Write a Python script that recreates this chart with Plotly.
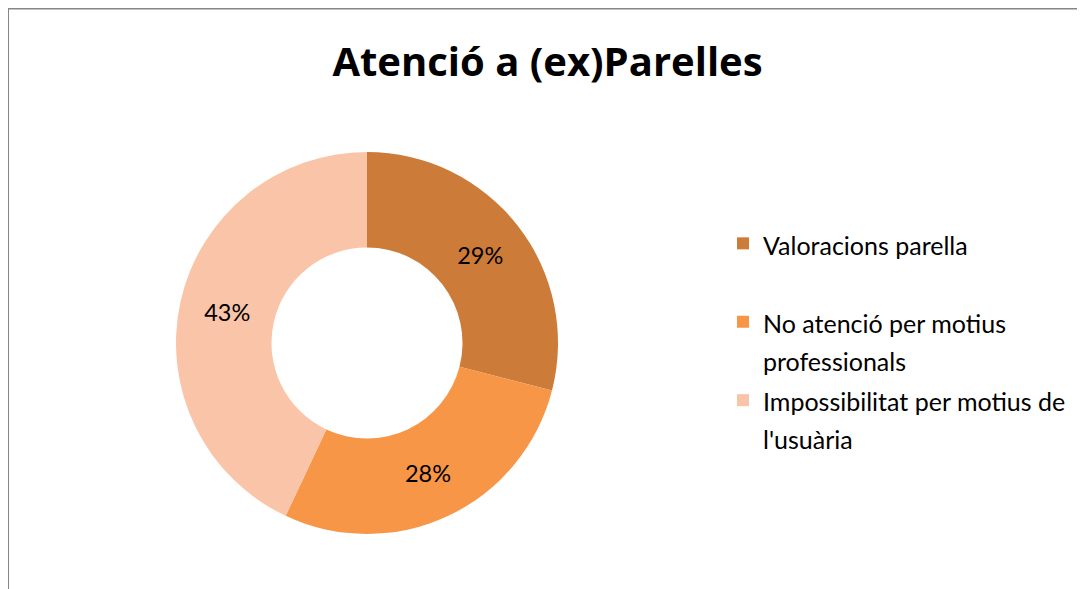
import plotly.graph_objects as go

labels = ["Valoracions parella", "No atenció per motius<br>professionals", "Impossibilitat per motius de<br>l'usuària"]
values = [29, 28, 43]
colors = ["#CD7B38", "#F79646", "#FAC4A9"]
title = "Atenció a (ex)Parelles"

# the page body has an 8px margin; work in screen pixels and shift
OFF = 8
W, H = 1085 - OFF, 589 - OFF
FONT = "Lato"


def px(x):
    return (x - OFF) / W


def py(y):
    return 1 - (y - OFF) / H


legend_labels = ["<span style='font-size:25px'>" + l.replace("<br>", "</span><br><span style='font-size:25px'>") + "</span>"
                 for l in [labels[0] + "<br> "] + labels[1:]]

fig = go.Figure(go.Pie(
    labels=legend_labels,
    values=values,
    hole=0.5,
    sort=False,
    direction="clockwise",
    rotation=0,
    marker=dict(colors=colors, line=dict(width=0)),
    textinfo="percent",
    textposition="inside",
    insidetextorientation="horizontal",
    textfont=dict(family=FONT, size=23.5, color="#000000"),
    domain=dict(x=[px(176), px(558)], y=[py(534), py(152)]),
    hoverinfo="label+percent",
))

fig.update_layout(
    width=W, height=H,
    margin=dict(l=0, r=0, t=0, b=0),
    paper_bgcolor="white",
    plot_bgcolor="white",
    title=dict(text="<b>" + title + "</b>", x=px(547.5), xanchor="center",
               y=py(62), yanchor="middle",
               font=dict(family="Open Sans", size=40, color="#000000")),
    legend=dict(x=px(723), xanchor="left", y=py(218), yanchor="top",
                font=dict(family=FONT, size=29, color="#000000"),
                valign="top", itemsizing="constant", bgcolor="rgba(0,0,0,0)"),
    shapes=[
        dict(type="line", xref="paper", yref="paper", x0=px(8), x1=px(8), y0=0, y1=py(8),
             line=dict(color="#868686", width=2)),
        dict(type="line", xref="paper", yref="paper", x0=px(8), x1=1, y0=py(8.5), y1=py(8.5),
             line=dict(color="#868686", width=2)),
    ],
)

fig.write_html("out.html")
